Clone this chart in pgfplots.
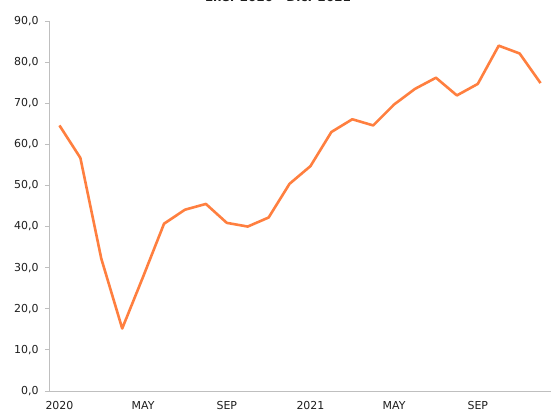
\documentclass[border=0pt]{standalone}
\usepackage{pgfplots}
\pgfplotsset{compat=1.18}
\usepackage{fontspec}
\setmainfont{DejaVu Sans}
\definecolor{lineor}{RGB}{255,127,63}
\definecolor{axgray}{RGB}{191,191,191}
\definecolor{txt}{RGB}{30,30,30}
\begin{document}
\begin{tikzpicture}
\begin{axis}[
  at={(49bp,20bp)}, anchor=south west,
  scale only axis,
  width=502bp, height=370bp,
  xmin=-0.5, xmax=23.5,
  ymin=0, ymax=90,
  axis lines*=left,
  axis line style={axgray, line width=0.8bp},
  axis x line*=bottom,
  axis y line*=left,
  xtick={0,4,8,12,16,20},
  xticklabels={2020,MAY,SEP,2021,MAY,SEP},
  xtick style={draw=none},
  minor xtick={-0.5,0.5,...,23.5},
  minor x tick style={axgray, line width=0.8bp},
  ytick={0,10,...,90},
  ytick style={axgray, line width=0.8bp},
  tick align=outside,
  major tick length=4bp,
  minor tick length=4bp,
  ticklabel style={font=\fontsize{11}{13}\selectfont, text=txt},
  yticklabel style={xshift=-3bp},
  xticklabel style={yshift=-3bp},
  /pgf/number format/assume math mode=true,
  yticklabel={\pgfmathprintnumber[fixed,fixed zerofill,precision=1,use comma]{\tick}},
  clip=false,
]
\addplot[lineor, line width=2.6bp, line join=round] coordinates {
(0,64.6) (1,56.7) (2,32.2) (3,15.2) (4,27.8) (5,40.7) (6,44.1) (7,45.5)
(8,40.9) (9,40.0) (10,42.2) (11,50.4) (12,54.7) (13,63.0) (14,66.1) (15,64.6)
(16,69.7) (17,73.5) (18,76.2) (19,71.9) (20,74.7) (21,84.0) (22,82.1) (23,74.9)
};
\end{axis}
\node[anchor=base, font=\bfseries\fontsize{12}{14}\selectfont, text=txt] at (278bp,409bp) {Ene. 2020 - Dic. 2021};
\pgfresetboundingbox
\useasboundingbox (0,0) rectangle (551bp,411bp);
\end{tikzpicture}
\end{document}
